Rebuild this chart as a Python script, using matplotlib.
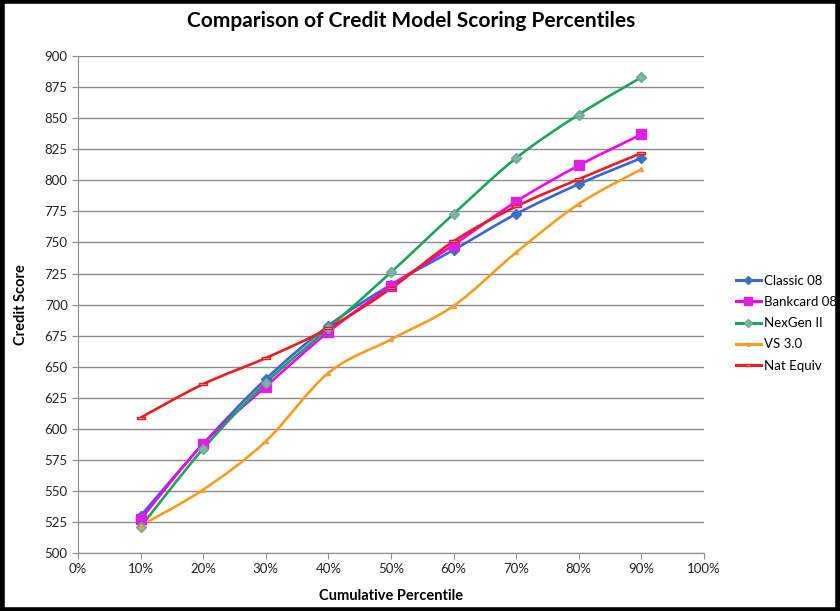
import matplotlib
matplotlib.use("Agg")
import matplotlib.pyplot as plt
from matplotlib.path import Path
from matplotlib.patches import PathPatch, Rectangle
from matplotlib.lines import Line2D
from matplotlib.ticker import PercentFormatter

plt.rcParams['font.family'] = ['Lato', 'DejaVu Sans']

# percentil acumulado (eixo x)
percentis = [10, 20, 30, 40, 50, 60, 70, 80, 90]

classic_08 = [530, 588, 640, 683, 716, 744, 773, 797, 818]
bankcard_08 = [527, 588, 634, 678, 715, 748, 783, 812, 837]
nexgen_ii = [521, 584, 637, 681, 726, 773, 818, 853, 883]
vs_30 = [522, 551, 590, 645, 672, 699, 742, 781, 809]
nat_equiv = [609, 636, 657, 681, 713, 751, 779, 801, 822]

nomes = ['Classic 08', 'Bankcard 08', 'NexGen II', 'VS 3.0', 'Nat Equiv']
series = [classic_08, bankcard_08, nexgen_ii, vs_30, nat_equiv]


def curva_suave(xs, ys, t=1/6):
    # linha suavizada estilo Excel (bezier com pontos de controle catmull-rom)
    verts = [(xs[0], ys[0])]
    codes = [Path.MOVETO]
    n = len(xs)
    for i in range(n - 1):
        x0, y0 = (xs[i - 1], ys[i - 1]) if i > 0 else (xs[i], ys[i])
        x1, y1 = xs[i], ys[i]
        x2, y2 = xs[i + 1], ys[i + 1]
        x3, y3 = (xs[i + 2], ys[i + 2]) if i + 2 < n else (x2, y2)
        c1 = (x1 + (x2 - x0) * t, y1 + (y2 - y0) * t)
        c2 = (x2 - (x3 - x1) * t, y2 - (y3 - y1) * t)
        verts += [c1, c2, (x2, y2)]
        codes += [Path.CURVE4] * 3
    return Path(verts, codes)


# marcador retangular achatado (Nat Equiv)
retangulo = Path([(-1, -0.35), (1, -0.35), (1, 0.35), (-1, 0.35), (-1, -0.35)],
                 [Path.MOVETO, Path.LINETO, Path.LINETO, Path.LINETO, Path.CLOSEPOLY])

estilos = [
    dict(cor='#3a64dc', marker='D', ms=5, mfc='#3f6fbf', mec='#3f6fbf'),
    dict(cor='#f200f2', marker='s', ms=7, mfc='#e020e0', mec='#e020e0'),
    dict(cor='#1ea35a', marker='D', ms=5, mfc='#7fb3a8', mec='#6fa79b'),
    dict(cor='#f59d1f', marker='^', ms=3, mfc='#f0a040', mec='#f0a040'),
    dict(cor='#ee1c1c', marker=retangulo, ms=6, mfc='#ffb8b0', mec='#e02020'),
]

fig = plt.figure(figsize=(8.4, 6.11), dpi=100)
ax = fig.add_axes([0.093, 0.095, 0.745, 0.813])

for nome, ys, st in zip(nomes, series, estilos):
    ax.add_patch(PathPatch(curva_suave(percentis, ys), fill=False,
                           edgecolor=st['cor'], lw=1.9, zorder=3))
    ax.plot(percentis, ys, linestyle='none', marker=st['marker'],
            markersize=st['ms'], markerfacecolor=st['mfc'],
            markeredgecolor=st['mec'], markeredgewidth=1, zorder=4)

ax.set_xlim(0, 100)
ax.set_ylim(500, 900)
ax.set_xticks(range(0, 101, 10))
ax.set_yticks(range(500, 901, 25))
ax.xaxis.set_major_formatter(PercentFormatter(decimals=0))
ax.grid(True, axis='y', color='#8c8c8c', lw=1)
ax.set_axisbelow(True)
for lado in ['top', 'right']:
    ax.spines[lado].set_visible(False)
for lado in ['left', 'bottom']:
    ax.spines[lado].set_color('#8c8c8c')
ax.tick_params(direction='out', length=4, color='#8c8c8c', labelsize=9.5,
               labelcolor='#222222')

ax.set_xlabel('Cumulative Percentile', fontsize=10.5, fontweight='bold', labelpad=10)
ax.set_ylabel('Credit Score', fontsize=10.5, fontweight='bold', labelpad=12)
fig.text(0.49, 0.966, 'Comparison of Credit Model Scoring Percentiles',
         ha='center', va='center', fontsize=15, fontweight='bold')

handles = [Line2D([], [], color=st['cor'], lw=2.2, marker=st['marker'],
                  markersize=st['ms'] * 0.8, markerfacecolor=st['mfc'],
                  markeredgecolor=st['mec']) for st in estilos]
fig.legend(handles, nomes, loc='center left', bbox_to_anchor=(0.862, 0.471),
           frameon=False, fontsize=9.5, handlelength=1.9, handletextpad=0.2,
           labelspacing=0.7)

# moldura preta da imagem
fig.patches.append(Rectangle((0.002, 0.002), 0.996, 0.996, transform=fig.transFigure,
                             fill=False, edgecolor='black', lw=4))

fig.savefig('out.png', dpi=100)
